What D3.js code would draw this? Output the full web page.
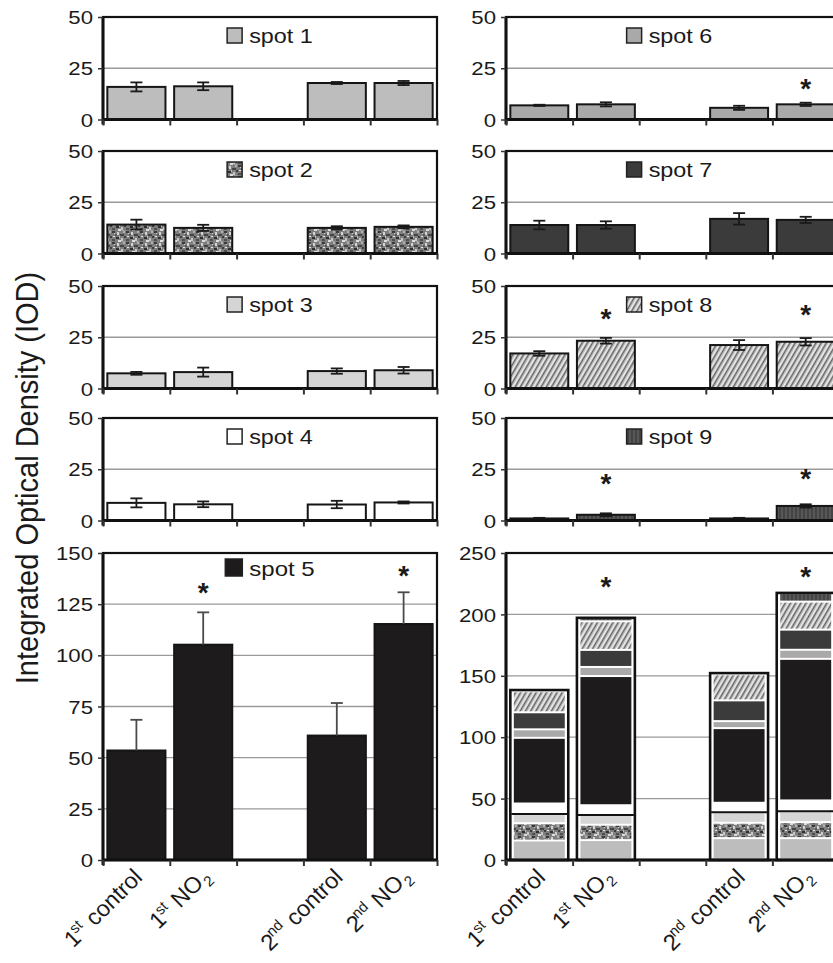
<!DOCTYPE html>
<html><head><meta charset="utf-8">
<script src="https://cdn.jsdelivr.net/npm/d3@7"></script>
<style>body{margin:0;background:#fff}svg{display:block}text{font-family:"Liberation Sans",Arial,sans-serif;fill:#1a1a1a}</style>
</head><body><svg id="c" width="833" height="963"></svg>
<script>
// ---------- DATA ----------
const categories = ["1st control", "1st NO2", "", "2nd control", "2nd NO2"];
const groups = ["1st control", "1st NO2", "2nd control", "2nd NO2"];
const spotNames = ["spot 1","spot 2","spot 3","spot 4","spot 5","spot 6","spot 7","spot 8","spot 9"];

const spot1Mean = [15.9, 16.2, 17.8, 17.8];  const spot1Err = [2.2, 1.9, 0.5, 1.0];
const spot2Mean = [14.1, 12.5, 12.5, 13.0];  const spot2Err = [2.4, 1.5, 0.8, 0.7];
const spot3Mean = [7.4, 8.0, 8.5, 8.9];      const spot3Err = [0.7, 2.2, 1.3, 1.6];
const spot4Mean = [8.6, 7.9, 7.8, 8.8];      const spot4Err = [2.2, 1.4, 1.8, 0.5];
const spot5Mean = [53.5, 105.2, 60.8, 115.3];const spot5Err = [15.0, 15.8, 15.9, 15.5];
const spot6Mean = [6.9, 7.4, 5.7, 7.4];      const spot6Err = [0.3, 1.0, 1.0, 0.8];
const spot7Mean = [13.9, 13.9, 16.9, 16.4];  const spot7Err = [2.1, 1.8, 2.8, 1.5];
const spot8Mean = [17.1, 23.3, 21.2, 22.8];  const spot8Err = [1.1, 1.4, 2.4, 1.8];
const spot9Mean = [1.0, 2.8, 1.0, 7.1];      const spot9Err = [0.3, 0.7, 0.3, 0.8];

// significance stars, placed at these axis values (null = none)
const spot5Star = [null, 133.7, null, 142.2];
const spot6Star = [null, null, null, 18.4];
const spot8Star = [null, 37.4, null, 39.1];
const spot9Star = [null, 21.4, null, 23.8];
const totalStar = [null, 228.4, null, 236.5];

const smallTicks = [0, 25, 50];
const spot5Ticks = [0, 25, 50, 75, 100, 125, 150];
const totalTicks = [0, 50, 100, 150, 200, 250];

// x tick labels: [text, role]
const xLabelParts = [
  [["1",""],["st","sup"],[" control",""]],
  [["1",""],["st","sup"],[" NO",""],["2","sub"]],
  [],
  [["2",""],["nd","sup"],[" control",""]],
  [["2",""],["nd","sup"],[" NO",""],["2","sub"]]
];
const yTitle = "Integrated Optical Density (IOD)";

const means = [spot1Mean,spot2Mean,spot3Mean,spot4Mean,spot5Mean,spot6Mean,spot7Mean,spot8Mean,spot9Mean];
const errs  = [spot1Err,spot2Err,spot3Err,spot4Err,spot5Err,spot6Err,spot7Err,spot8Err,spot9Err];

// ---------- STYLE ----------
const svg = d3.select("#c");
const defs = svg.append("defs");
{
  const p2 = defs.append("pattern").attr("id","pat2").attr("patternUnits","userSpaceOnUse").attr("width",14).attr("height",11);
  p2.append("rect").attr("width",14).attr("height",11).attr("fill","#7e7e7e");
  const speck = [[0,0,3,2,"#3a3a3a"],[5,1,2,3,"#d2d2d2"],[8,3,4,2,"#454545"],[1,5,2,1,"#e4e4e4"],[4,6,3,2,"#2e2e2e"],
                 [9,7,2,3,"#c8c8c8"],[0,8,3,2,"#505050"],[6,9,3,2,"#dcdcdc"],[11,0,2,2,"#b0b0b0"],[3,3,2,2,"#5a5a5a"],
                 [7,5,1,2,"#bdbdbd"],[12,5,2,2,"#3c3c3c"],[2,2,1,1,"#cfcfcf"],[10,10,3,1,"#9c9c9c"]];
  speck.forEach(s=>p2.append("rect").attr("x",s[0]).attr("y",s[1]).attr("width",s[2]).attr("height",s[3]).attr("fill",s[4]));
  const p8 = defs.append("pattern").attr("id","pat8").attr("patternUnits","userSpaceOnUse").attr("width",4.5).attr("height",9).attr("patternTransform","rotate(30)");
  p8.append("rect").attr("width",4.5).attr("height",9).attr("fill","#c4c4c4");
  p8.append("rect").attr("x",0).attr("width",1.2).attr("height",9).attr("fill","#606060");
  p8.append("rect").attr("x",2.6).attr("width",1).attr("height",9).attr("fill","#f0f0f0");
  const p9 = defs.append("pattern").attr("id","pat9").attr("patternUnits","userSpaceOnUse").attr("width",4).attr("height",4);
  p9.append("rect").attr("width",4).attr("height",4).attr("fill","#444");
  p9.append("rect").attr("x",1.5).attr("width",1).attr("height",4).attr("fill","#6a6a6a");
}
const fills = ["#bdbdbd","url(#pat2)","#d5d5d5","#ffffff","#1d1b1c","#a9a9a9","#3b3b3b","url(#pat8)","url(#pat9)"];
const SX = 1.2; // horizontal stretch of the original figure's text

const leftX = [103, 437], rightX = [506, 839];
const rowTops = [17, 151, 286, 418], rowH = 102.5;
const bigTop = 553, bigBot = 860;
const TICKFONT = 18.5;

function makeScales(xr, yTop, yBot, yMax){
  const x = d3.scaleBand().domain(categories).range(xr).paddingInner(0.13).paddingOuter(0.065);
  const y = d3.scaleLinear().domain([0, yMax]).range([yBot, yTop]);
  return {x, y};
}

function grid(g, xr, y, ticks){
  g.append("g").selectAll("line").data(ticks.filter(t=>t>0)).join("line")
    .attr("x1", xr[0]).attr("x2", xr[1]).attr("y1", d=>y(d)).attr("y2", d=>y(d))
    .attr("stroke", "#9a9a9a").attr("stroke-width", 1.3);
}
function frameTop(g, xr, yTop, yBot, y, ticks){
  g.append("rect").attr("x", xr[0]).attr("y", yTop).attr("width", xr[1]-xr[0]).attr("height", yBot-yTop)
    .attr("fill","none").attr("stroke","#111").attr("stroke-width",2.2);
  g.append("line").attr("x1", xr[0]).attr("x2", xr[0]).attr("y1", yTop).attr("y2", yBot+5).attr("stroke","#111").attr("stroke-width",3);
  g.append("line").attr("x1", xr[0]).attr("x2", xr[1]).attr("y1", yBot).attr("y2", yBot).attr("stroke","#111").attr("stroke-width",2.8);
  const ya = g.append("g").attr("transform",`translate(${xr[0]},0)`)
    .call(d3.axisLeft(y).tickValues(ticks).tickSize(5).tickPadding(0));
  ya.select(".domain").remove();
  ya.selectAll(".tick line").attr("stroke","#333").attr("stroke-width",1.5);
  ya.selectAll(".tick text").attr("x",0).attr("dy","0.36em")
    .attr("transform",`translate(-10,0) scale(${SX},1)`)
    .style("font-size", TICKFONT+"px").attr("fill","#111");
  const xb = d3.scaleLinear().domain([0, categories.length]).range(xr);
  const xa = g.append("g").attr("transform",`translate(0,${yBot})`)
    .call(d3.axisBottom(xb).ticks(categories.length).tickSize(6).tickFormat(""));
  xa.select(".domain").remove();
  xa.selectAll(".tick line").attr("stroke","#333").attr("stroke-width",2);
}

function legend(g, idx, cx, top, sw, fs){
  const lg = g.append("g");
  const t = lg.append("text").text(spotNames[idx]).style("font-size", fs+"px").attr("fill","#111");
  const tw = t.node().getComputedTextLength()*SX;
  const total = sw + 7 + tw;
  const x0 = cx - total/2;
  lg.insert("rect","text").attr("x", x0).attr("y", top).attr("width", sw).attr("height", sw)
    .attr("fill", fills[idx]).attr("stroke","#222").attr("stroke-width",1.5);
  t.attr("transform", `translate(${x0+sw+7},${top+sw-0.5}) scale(${SX},1)`);
}

function stars(g, x, y, arr){
  g.append("g").selectAll("text").data(groups.map((gr,j)=>({gr, v:arr[j]})).filter(d=>d.v!=null)).join("text")
    .attr("x", d=>x(d.gr)+x.bandwidth()/2).attr("y", d=>y(d.v)+16)
    .attr("text-anchor","middle").style("font-size","28px").style("font-weight","bold").text("*");
}

function barPanel(idx, xr, yTop, yBot, yMax, ticks, opts){
  const g = svg.append("g");
  const {x, y} = makeScales(xr, yTop, yBot, yMax);
  grid(g, xr, y, ticks);
  const data = groups.map((gr,j)=>({gr, m: means[idx][j], e: errs[idx][j]}));
  g.append("g").selectAll("rect").data(data).join("rect")
    .attr("x", d=>x(d.gr)).attr("width", x.bandwidth())
    .attr("y", d=>y(d.m)).attr("height", d=>y(0)-y(d.m))
    .attr("fill", fills[idx]).attr("stroke","#151515").attr("stroke-width",2);
  const eg = g.append("g").attr("stroke", opts.errColor||"#1a1a1a").attr("stroke-width",1.8);
  data.forEach(d=>{
    const cx = x(d.gr)+x.bandwidth()/2;
    const lo = opts.upOnly ? d.m : d.m-d.e;
    eg.append("line").attr("x1",cx).attr("x2",cx).attr("y1",y(lo)).attr("y2",y(d.m+d.e));
    eg.append("line").attr("x1",cx-6).attr("x2",cx+6).attr("y1",y(d.m+d.e)).attr("y2",y(d.m+d.e));
    if (!opts.upOnly) eg.append("line").attr("x1",cx-6).attr("x2",cx+6).attr("y1",y(d.m-d.e)).attr("y2",y(d.m-d.e));
  });
  frameTop(g, xr, yTop, yBot, y, ticks);
  legend(g, idx, (xr[0]+xr[1])/2 - (opts.legendShift||0), opts.legTop, opts.sw, opts.legFont);
  if (opts.star) stars(g, x, y, opts.star);
  return {x, y};
}

const leftSpots = [0,1,2,3], rightSpots = [5,6,7,8];
const rightStars = [spot6Star, null, spot8Star, spot9Star];
leftSpots.forEach((s,i)=>barPanel(s, leftX, rowTops[i], rowTops[i]+rowH, 50, smallTicks,
  {legTop: rowTops[i]+11, sw:15, legFont:19.5}));
rightSpots.forEach((s,i)=>barPanel(s, rightX, rowTops[i], rowTops[i]+rowH, 50, smallTicks,
  {legTop: rowTops[i]+11, sw:15, legFont:19.5, legendShift:3, star: rightStars[i]}));

barPanel(4, leftX, bigTop, bigBot, 150, spot5Ticks,
  {legTop: bigTop+6, sw:17, legFont:20, errColor:"#4a4a4a", upOnly:true, star: spot5Star});

// stacked total panel
{
  const g = svg.append("g");
  const {x, y} = makeScales(rightX, bigTop, bigBot, 250);
  grid(g, rightX, y, totalTicks);
  const keys = spotNames.map((n,i)=>i);
  const rows = groups.map((gr,j)=>{ const r={gr}; keys.forEach(k=>r[k]=means[k][j]); return r; });
  const series = d3.stack().keys(keys)(rows);
  const totals = rows.map(r=>({gr:r.gr, t:d3.sum(keys, k=>r[k])}));
  g.append("g").selectAll("rect").data(totals).join("rect")
    .attr("x", d=>x(d.gr)).attr("width", x.bandwidth())
    .attr("y", d=>y(d.t)).attr("height", d=>y(0)-y(d.t))
    .attr("fill","#fff").attr("stroke","#111").attr("stroke-width",2.6);
  series.forEach((s)=>{
    g.append("g").selectAll("rect").data(s).join("rect")
      .attr("x", d=>x(d.data.gr)+3.5).attr("width", x.bandwidth()-7)
      .attr("y", d=>y(d[1])+1).attr("height", d=>Math.max(0, y(d[0])-y(d[1])-2))
      .attr("fill", fills[s.key]);
  });
  g.append("g").selectAll("line").data(series[2]).join("line")
    .attr("x1", d=>x(d.data.gr)+1).attr("x2", d=>x(d.data.gr)+x.bandwidth()-1)
    .attr("y1", d=>y(d[1])).attr("y2", d=>y(d[1])).attr("stroke","#111").attr("stroke-width",2);
  frameTop(g, rightX, bigTop, bigBot, y, totalTicks);
  stars(g, x, y, totalStar);
}

function xLabels(xr){
  const {x} = makeScales(xr, 0, 1, 1);
  categories.forEach((c,i)=>{
    if (!xLabelParts[i].length) return;
    const ax = x(c) + x.bandwidth()/2 + 8, ay = 878;
    const t = svg.append("text").attr("text-anchor","end")
      .attr("transform",`translate(${ax},${ay}) scale(${SX},1) rotate(-50)`)
      .style("font-size","21px").style("font-style","italic").attr("fill","#111");
    let shift = 0;
    xLabelParts[i].forEach(([txt, role])=>{
      const ts = t.append("tspan").text(txt);
      const target = role==="sup" ? -8 : role==="sub" ? 5 : 0;
      ts.attr("dy", target - shift); shift = target;
      if (role) ts.style("font-size","13.5px");
    });
  });
}
xLabels(leftX); xLabels(rightX);

svg.append("text").attr("text-anchor","middle")
  .attr("transform","translate(38,478) scale(1.1,1) rotate(-90)")
  .style("font-size","29px").attr("fill","#333").text(yTitle);
</script></body></html>
